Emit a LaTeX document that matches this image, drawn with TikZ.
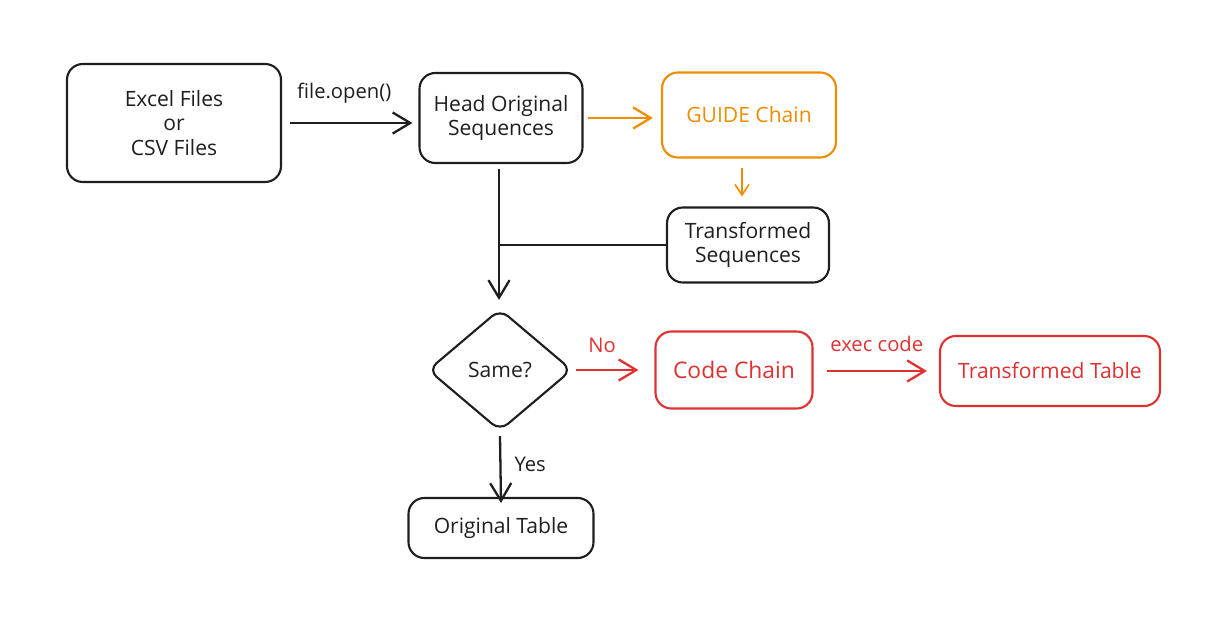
\documentclass[tikz,border=0pt]{standalone}
\usepackage{fontspec}
\setmainfont{Open Sans}
\usetikzlibrary{arrows.meta,shapes.geometric}
\definecolor{ink}{HTML}{1E1E1E}
\definecolor{orng}{HTML}{F08C00}
\definecolor{rd}{HTML}{E03131}
\begin{document}
\begin{tikzpicture}[x=0.02cm,y=-0.02cm,
  box/.style={draw=ink,line width=1.2pt,rounded corners=9pt,align=center,inner sep=0pt,font=\fontsize{12}{14}\selectfont,text=ink},
  conn/.style={line width=1.3pt,draw=ink,-{Straight Barb[length=10pt,width=12pt,line width=1.3pt]}},
  lbl/.style={font=\fontsize{11.5}{13}\selectfont,text=ink}]
\useasboundingbox (0,0) rectangle (1216,617);
\node[box,minimum width=214*0.02cm,minimum height=118*0.02cm] (excel) at (174,123) {Excel Files\\or\\CSV Files};
\node[box,minimum width=163*0.02cm,minimum height=90*0.02cm] (head) at (501,118) {Head Original\\Sequences};
\node[box,draw=orng,text=orng,minimum width=174*0.02cm,minimum height=85*0.02cm] (guide) at (749,115) {GUIDE Chain};
\node[box,minimum width=162*0.02cm,minimum height=75*0.02cm] (tseq) at (748,245) {Transformed\\Sequences};
\node[diamond,draw=ink,line width=1.2pt,rounded corners=6pt,minimum width=144*0.02cm,minimum height=122*0.02cm,inner sep=0pt,aspect=1.18,font=\fontsize{12}{14}\selectfont,text=ink] (same) at (500,370) {Same?};
\node[box,draw=rd,text=rd,minimum width=157*0.02cm,minimum height=77*0.02cm,font=\fontsize{13}{15}\selectfont] (code) at (734,370) {Code Chain};
\node[box,draw=rd,text=rd,minimum width=220*0.02cm,minimum height=70*0.02cm] (ttab) at (1050,371) {Transformed Table};
\node[box,minimum width=185*0.02cm,minimum height=60*0.02cm] (otab) at (501,528) {Original Table};
\coordinate (join) at (499,245);
% connectors
\draw[conn] ([xshift=8*0.02cm]excel.east) -- ([xshift=-6*0.02cm]excel.east -| head.west) node[lbl,midway,above=7pt,xshift=-4pt] {file.open()};
\draw[conn,draw=orng] ([xshift=4*0.02cm]head.east) -- ([xshift=-8*0.02cm]head.east -| guide.west);
\draw[conn,draw=orng,line width=0.9pt,-{Straight Barb[length=6pt,width=8pt,line width=0.9pt]}] ([xshift=-7*0.02cm,yshift=-9*0.02cm]guide.south) -- ([xshift=-7*0.02cm,yshift=10*0.02cm]guide.south |- tseq.north);
\draw[line width=1.3pt,draw=ink] (tseq.west) -- (join);
\draw[conn] ([xshift=-2*0.02cm,yshift=-5*0.02cm]head.south) -- ([xshift=-2*0.02cm,yshift=8*0.02cm]head.south |- same.north);
\draw[conn,draw=rd] ([xshift=3*0.02cm]same.east) -- ([xshift=-16*0.02cm]code.west) node[lbl,text=rd,midway,above=6pt,xshift=-3pt] {No};
\draw[conn,draw=rd] ([xshift=13*0.02cm,yshift=-1*0.02cm]code.east) -- ([xshift=-12*0.02cm,yshift=-1*0.02cm]code.east -| ttab.west) node[lbl,text=rd,midway,above=7pt] {exec code};
\draw[conn] ([yshift=-4*0.02cm]same.south) -- ([yshift=-6*0.02cm]otab.north) node[lbl,midway,right=4pt,yshift=3pt] {Yes};
\end{tikzpicture}
\end{document}
